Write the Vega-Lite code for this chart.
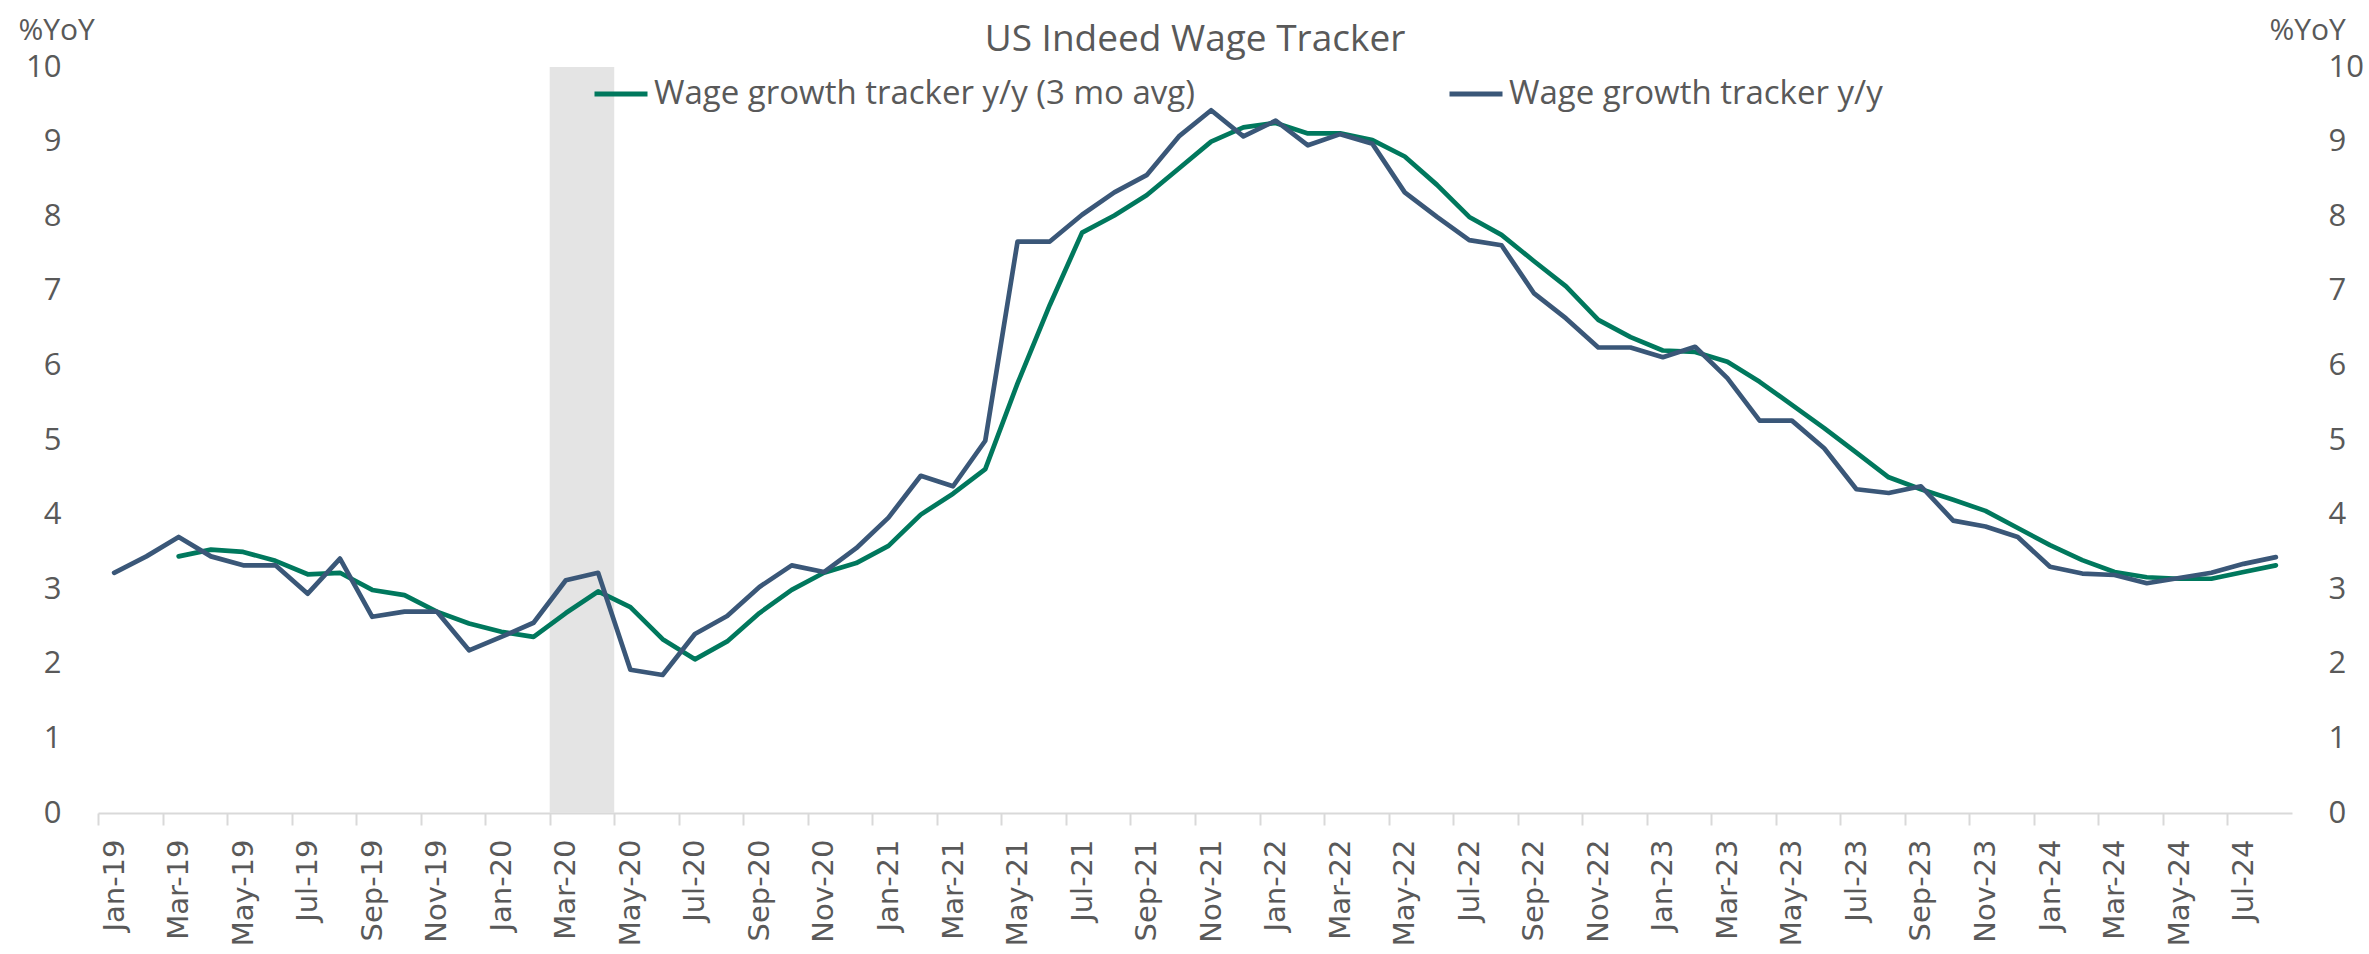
{
  "$schema": "https://vega.github.io/schema/vega-lite/v6.json",
  "width": 2194,
  "height": 746,
  "autosize": {"type": "none"},
  "padding": {"left": 98, "top": 67, "right": 77, "bottom": 141},
  "background": "white",
  "config": {"view": {"stroke": null}},
  "title": {"text": "US Indeed Wage Tracker", "font": "Open Sans", "fontSize": 37, "fontWeight": "normal", "color": "#595959", "anchor": "middle", "baseline": "alphabetic", "offset": -73},
  "datasets": {
    "wage": [
      {"month": "Jan-19", "yy": 3.22, "avg3": null},
      {"month": "Feb-19", "yy": 3.44, "avg3": null},
      {"month": "Mar-19", "yy": 3.70, "avg3": 3.44},
      {"month": "Apr-19", "yy": 3.44, "avg3": 3.53},
      {"month": "May-19", "yy": 3.32, "avg3": 3.50},
      {"month": "Jun-19", "yy": 3.32, "avg3": 3.38},
      {"month": "Jul-19", "yy": 2.94, "avg3": 3.20},
      {"month": "Aug-19", "yy": 3.41, "avg3": 3.22},
      {"month": "Sep-19", "yy": 2.63, "avg3": 2.99},
      {"month": "Oct-19", "yy": 2.70, "avg3": 2.92},
      {"month": "Nov-19", "yy": 2.70, "avg3": 2.70},
      {"month": "Dec-19", "yy": 2.18, "avg3": 2.54},
      {"month": "Jan-20", "yy": 2.36, "avg3": 2.43},
      {"month": "Feb-20", "yy": 2.55, "avg3": 2.36},
      {"month": "Mar-20", "yy": 3.12, "avg3": 2.68},
      {"month": "Apr-20", "yy": 3.22, "avg3": 2.97},
      {"month": "May-20", "yy": 1.92, "avg3": 2.76},
      {"month": "Jun-20", "yy": 1.85, "avg3": 2.33},
      {"month": "Jul-20", "yy": 2.40, "avg3": 2.06},
      {"month": "Aug-20", "yy": 2.64, "avg3": 2.30},
      {"month": "Sep-20", "yy": 3.03, "avg3": 2.68},
      {"month": "Oct-20", "yy": 3.32, "avg3": 2.99},
      {"month": "Nov-20", "yy": 3.23, "avg3": 3.22},
      {"month": "Dec-20", "yy": 3.55, "avg3": 3.35},
      {"month": "Jan-21", "yy": 3.96, "avg3": 3.58},
      {"month": "Feb-21", "yy": 4.52, "avg3": 4.00},
      {"month": "Mar-21", "yy": 4.38, "avg3": 4.28},
      {"month": "Apr-21", "yy": 4.99, "avg3": 4.61},
      {"month": "May-21", "yy": 7.66, "avg3": 5.76},
      {"month": "Jun-21", "yy": 7.66, "avg3": 6.81},
      {"month": "Jul-21", "yy": 8.02, "avg3": 7.78},
      {"month": "Aug-21", "yy": 8.32, "avg3": 8.01},
      {"month": "Sep-21", "yy": 8.55, "avg3": 8.28},
      {"month": "Oct-21", "yy": 9.07, "avg3": 8.64},
      {"month": "Nov-21", "yy": 9.42, "avg3": 9.00},
      {"month": "Dec-21", "yy": 9.07, "avg3": 9.19},
      {"month": "Jan-22", "yy": 9.28, "avg3": 9.25},
      {"month": "Feb-22", "yy": 8.95, "avg3": 9.11},
      {"month": "Mar-22", "yy": 9.10, "avg3": 9.11},
      {"month": "Apr-22", "yy": 8.97, "avg3": 9.02},
      {"month": "May-22", "yy": 8.32, "avg3": 8.80},
      {"month": "Jun-22", "yy": 7.99, "avg3": 8.42},
      {"month": "Jul-22", "yy": 7.68, "avg3": 7.99},
      {"month": "Aug-22", "yy": 7.61, "avg3": 7.75},
      {"month": "Sep-22", "yy": 6.97, "avg3": 7.40},
      {"month": "Oct-22", "yy": 6.63, "avg3": 7.06},
      {"month": "Nov-22", "yy": 6.24, "avg3": 6.61},
      {"month": "Dec-22", "yy": 6.24, "avg3": 6.38},
      {"month": "Jan-23", "yy": 6.11, "avg3": 6.20},
      {"month": "Feb-23", "yy": 6.25, "avg3": 6.18},
      {"month": "Mar-23", "yy": 5.83, "avg3": 6.05},
      {"month": "Apr-23", "yy": 5.26, "avg3": 5.78},
      {"month": "May-23", "yy": 5.26, "avg3": 5.47},
      {"month": "Jun-23", "yy": 4.89, "avg3": 5.16},
      {"month": "Jul-23", "yy": 4.34, "avg3": 4.83},
      {"month": "Aug-23", "yy": 4.29, "avg3": 4.50},
      {"month": "Sep-23", "yy": 4.38, "avg3": 4.34},
      {"month": "Oct-23", "yy": 3.92, "avg3": 4.20},
      {"month": "Nov-23", "yy": 3.84, "avg3": 4.05},
      {"month": "Dec-23", "yy": 3.70, "avg3": 3.82},
      {"month": "Jan-24", "yy": 3.30, "avg3": 3.59},
      {"month": "Feb-24", "yy": 3.21, "avg3": 3.39},
      {"month": "Mar-24", "yy": 3.19, "avg3": 3.23},
      {"month": "Apr-24", "yy": 3.08, "avg3": 3.16},
      {"month": "May-24", "yy": 3.15, "avg3": 3.14},
      {"month": "Jun-24", "yy": 3.22, "avg3": 3.14},
      {"month": "Jul-24", "yy": 3.34, "avg3": 3.23},
      {"month": "Aug-24", "yy": 3.43, "avg3": 3.32}
    ],
    "shade": [
      {"month": "Mar-20", "top": 10, "bottom": 0},
      {"month": "Apr-20", "top": 10, "bottom": 0}
    ]
  },
  "encoding": {
    "x": {
      "field": "month",
      "type": "ordinal",
      "scale": {
        "type": "band",
        "paddingInner": 0,
        "paddingOuter": 0,
        "domain": ["Jan-19","Feb-19","Mar-19","Apr-19","May-19","Jun-19","Jul-19","Aug-19","Sep-19","Oct-19","Nov-19","Dec-19","Jan-20","Feb-20","Mar-20","Apr-20","May-20","Jun-20","Jul-20","Aug-20","Sep-20","Oct-20","Nov-20","Dec-20","Jan-21","Feb-21","Mar-21","Apr-21","May-21","Jun-21","Jul-21","Aug-21","Sep-21","Oct-21","Nov-21","Dec-21","Jan-22","Feb-22","Mar-22","Apr-22","May-22","Jun-22","Jul-22","Aug-22","Sep-22","Oct-22","Nov-22","Dec-22","Jan-23","Feb-23","Mar-23","Apr-23","May-23","Jun-23","Jul-23","Aug-23","Sep-23","Oct-23","Nov-23","Dec-23","Jan-24","Feb-24","Mar-24","Apr-24","May-24","Jun-24","Jul-24","Aug-24"]
      },
      "axis": {
        "title": null,
        "values": ["Jan-19","Mar-19","May-19","Jul-19","Sep-19","Nov-19","Jan-20","Mar-20","May-20","Jul-20","Sep-20","Nov-20","Jan-21","Mar-21","May-21","Jul-21","Sep-21","Nov-21","Jan-22","Mar-22","May-22","Jul-22","Sep-22","Nov-22","Jan-23","Mar-23","May-23","Jul-23","Sep-23","Nov-23","Jan-24","Mar-24","May-24","Jul-24"],
        "labelAngle": -90,
        "labelFont": "DejaVu Sans",
        "labelFontSize": 29,
        "labelColor": "#595959",
        "labelPadding": 14,
        "labelOffset": 16.13,
        "tickOffset": -16.13,
        "tickSize": 12,
        "tickWidth": 2,
        "tickColor": "#D9D9D9",
        "domainColor": "#D9D9D9",
        "domainWidth": 2,
        "grid": false
      }
    }
  },
  "layer": [
    {
      "data": {"name": "shade"},
      "mark": {"type": "bar", "color": "#E4E4E4"},
      "encoding": {
        "y": {"field": "top", "type": "quantitative", "scale": {"domain": [0, 10], "nice": false}, "axis": null},
        "y2": {"field": "bottom"}
      }
    },
    {
      "data": {"name": "wage"},
      "mark": {"type": "line", "strokeWidth": 4.7, "strokeCap": "round", "strokeJoin": "round"},
      "encoding": {
        "y": {
          "field": "avg3", "type": "quantitative",
          "scale": {"domain": [0, 10], "nice": false},
          "axis": {"orient": "left", "values": [0,1,2,3,4,5,6,7,8,9,10], "grid": false, "ticks": false, "domain": false, "labelFont": "Open Sans", "labelFontSize": 31, "labelColor": "#595959", "labelPadding": 37, "title": "%YoY", "titleAngle": 0, "titleFont": "Open Sans", "titleFontSize": 30, "titleFontWeight": "normal", "titleColor": "#595959", "titleX": -80, "titleY": -28, "titleAlign": "left", "titleBaseline": "alphabetic"}
        },
        "color": {
          "datum": "Wage growth tracker y/y (3 mo avg)",
          "type": "nominal",
          "scale": {"domain": ["Wage growth tracker y/y (3 mo avg)", "Wage growth tracker y/y"], "range": ["#00785D", "#3A5778"]},
          "legend": {"orient": "none", "legendX": 494, "legendY": -2, "direction": "horizontal", "title": null, "symbolType": "stroke", "symbolSize": 2809, "symbolStrokeWidth": 5, "labelFont": "Open Sans", "labelFontSize": 33, "labelColor": "#595959", "labelLimit": 2000, "labelOffset": 4, "columnPadding": 244, "padding": 0}
        }
      }
    },
    {
      "data": {"name": "wage"},
      "mark": {"type": "line", "strokeWidth": 4.7, "strokeCap": "round", "strokeJoin": "round"},
      "encoding": {
        "y": {
          "field": "yy", "type": "quantitative",
          "scale": {"domain": [0, 10], "nice": false},
          "axis": {"orient": "right", "values": [0,1,2,3,4,5,6,7,8,9,10], "grid": false, "ticks": false, "domain": false, "labelFont": "Open Sans", "labelFontSize": 31, "labelColor": "#595959", "labelPadding": 36, "title": "%YoY", "titleAngle": 0, "titleFont": "Open Sans", "titleFontSize": 30, "titleFontWeight": "normal", "titleColor": "#595959", "titleX": -23, "titleY": -28, "titleAlign": "left", "titleBaseline": "alphabetic"}
        },
        "color": {"datum": "Wage growth tracker y/y", "type": "nominal"}
      }
    }
  ],
  "resolve": {"axis": {"y": "independent"}}
}
